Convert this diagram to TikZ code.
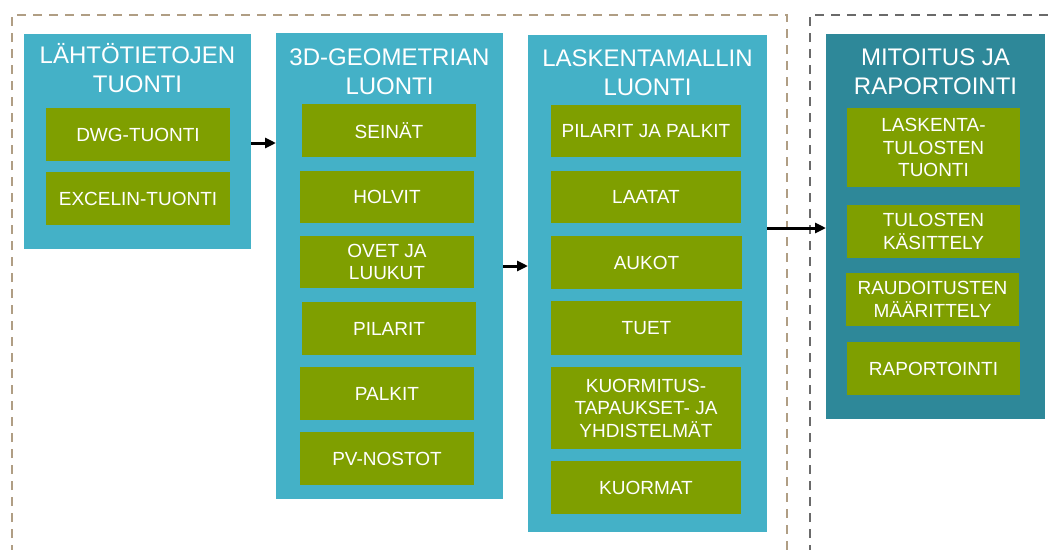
\documentclass[tikz,border=0pt]{standalone}
\usepackage{fontspec}
\setmainfont{Liberation Sans}
\usetikzlibrary{arrows.meta}

\definecolor{stagecol}{HTML}{44B1C7}
\definecolor{reportcol}{HTML}{2E8899}
\definecolor{taskcol}{HTML}{7F9F00}
\definecolor{tanframe}{HTML}{B09E84}
\definecolor{grayframe}{HTML}{6A6A6A}

\tikzset{
  stage/.style={fill=stagecol, draw=none, inner sep=0pt, outer sep=0pt},
  report/.style={fill=reportcol, draw=none, inner sep=0pt, outer sep=0pt},
  task/.style={fill=taskcol, draw=none, inner sep=0pt, outer sep=0pt,
    text=white, align=center, font=\fontsize{19}{22.5}\selectfont},
  ttl/.style={text=white, inner sep=0pt, anchor=base,
    font=\fontsize{24}{29}\selectfont},
  flow/.style={line width=3pt, draw=black,
    -{Triangle[length=11pt,width=10pt]}},
  frame/.style={line width=2pt, dash pattern=on 9pt off 7pt},
}

\newcommand{\ttltext}[1]{\begin{tabular}[t]{@{}c@{}}#1\end{tabular}}

\begin{document}
\begin{tikzpicture}[x=1pt,y=-1pt]
\useasboundingbox (0,0) rectangle (1054,549);

% dashed frames, open towards the page edges
\begin{scope}
  \clip (0,0) rectangle (1054,549);
  \draw[frame, tanframe] (12,570) -- (12,15) -- (787,15) -- (787,570);
  \draw[frame, grayframe] (810,570) -- (810,15) -- (1070,15);
\end{scope}

% stage 1
\node[stage, minimum width=227pt, minimum height=215pt] (b1) at (137.5,141.5) {};
\node[ttl] (t1) at (b1.north |- 0,63.5) {\ttltext{LÄHTÖTIETOJEN\\TUONTI}};
\node[task, minimum width=184pt, minimum height=53pt] (g11) at (138,134.5) {DWG-TUONTI};
\node[task, minimum width=184pt, minimum height=53pt] (g12) at (138,198.5) {EXCELIN-TUONTI};

% stage 2
\node[stage, minimum width=227pt, minimum height=466pt] (b2) at (389.5,266) {};
\node[ttl] (t2) at (b2.north |- 0,65) {\ttltext{3D-GEOMETRIAN\\LUONTI}};
\node[task, minimum width=174pt, minimum height=53pt] (g21) at (389,130.5) {SEINÄT};
\node[task, minimum width=174pt, minimum height=52pt] (g22) at (387,197) {HOLVIT};
\node[task, minimum width=174pt, minimum height=52pt] (g23) at (387,262) {OVET JA\\LUUKUT};
\node[task, minimum width=174pt, minimum height=53pt] (g24) at (389,328.5) {PILARIT};
\node[task, minimum width=174pt, minimum height=53pt] (g25) at (387,393.5) {PALKIT};
\node[task, minimum width=174pt, minimum height=53pt] (g26) at (387,458.5) {PV-NOSTOT};

% stage 3
\node[stage, minimum width=239pt, minimum height=497pt] (b3) at (647.5,283.5) {};
\node[ttl] (t3) at (b3.north |- 0,66) {\ttltext{LASKENTAMALLIN\\LUONTI}};
\node[task, minimum width=190pt, minimum height=52pt] (g31) at (646,131) {PILARIT JA PALKIT};
\node[task, minimum width=190pt, minimum height=52pt] (g32) at (646,197) {LAATAT};
\node[task, minimum width=191pt, minimum height=53pt] (g33) at (646.5,262.5) {AUKOT};
\node[task, minimum width=191pt, minimum height=54pt] (g34) at (646.5,328) {TUET};
\node[task, minimum width=190pt, minimum height=82pt] (g35) at (646,408) {KUORMITUS-\\TAPAUKSET- JA\\YHDISTELMÄT};
\node[task, minimum width=190pt, minimum height=53pt] (g36) at (646,487.5) {KUORMAT};

% stage 4
\node[report, minimum width=219pt, minimum height=385pt] (b4) at (935.5,226.5) {};
\node[ttl] (t4) at (b4.north |- 0,65) {\ttltext{MITOITUS JA\\RAPORTOINTI}};
\node[task, minimum width=173pt, minimum height=79pt] (g41) at (933.5,147.5) {LASKENTA-\\TULOSTEN\\TUONTI};
\node[task, minimum width=173pt, minimum height=53pt] (g42) at (933.5,231.5) {TULOSTEN\\KÄSITTELY};
\node[task, minimum width=173pt, minimum height=53pt] (g43) at (932.5,299.5) {RAUDOITUSTEN\\MÄÄRITTELY};
\node[task, minimum width=173pt, minimum height=53pt] (g44) at (933.5,368.5) {RAPORTOINTI};

% flow between stages
\draw[flow] (b1.east |- 0,143) -- (b2.west |- 0,143);
\draw[flow] (b2.east |- 0,266) -- (b3.west |- 0,266);
\draw[flow] (b3.east |- 0,228) -- (b4.west |- 0,228);
\end{tikzpicture}
\end{document}
